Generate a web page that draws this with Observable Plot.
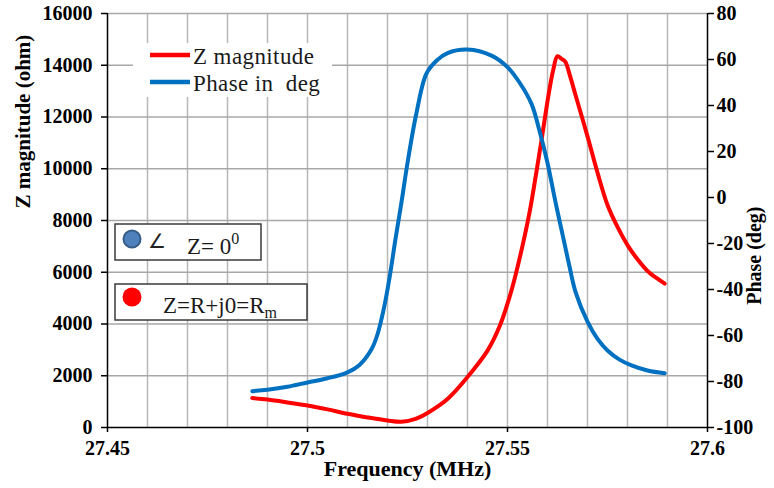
<!DOCTYPE html>
<html>
<head>
<meta charset="utf-8">
<script src="https://cdn.jsdelivr.net/npm/d3@7"></script>
<script src="https://cdn.jsdelivr.net/npm/@observablehq/plot@0.6"></script>
<style>
  body { margin: 0; background: #fff; }
  #wrap { position: relative; width: 774px; height: 488px; }
  #wrap svg { display: block; }
  #wrap svg, #wrap svg text, #wrap svg tspan { font-family: "Liberation Serif", "Times New Roman", "DejaVu Serif", serif !important; }
  #overlay { position: absolute; left: 0; top: 0; pointer-events: none; }
  #overlay text.sym { font-family: "DejaVu Sans", sans-serif !important; }
</style>
</head>
<body>
<div id="wrap"></div>
<script>
// ---- Data ----
const zFreq = [27.4862, 27.49, 27.495, 27.5, 27.505, 27.51, 27.515, 27.52, 27.5235, 27.527, 27.53, 27.535, 27.54, 27.545, 27.548, 27.551, 27.5535, 27.5555, 27.5572, 27.5588, 27.5602, 27.5614, 27.5625, 27.5635, 27.5644, 27.5657, 27.567, 27.57, 27.5725, 27.575, 27.5775, 27.58, 27.5825, 27.585, 27.5875, 27.5893];
const zMag  = [1140, 1080, 970, 850, 700, 530, 390, 270, 220, 330, 560, 1100, 1950, 2970, 3900, 5300, 6850, 8300, 9850, 11400, 12800, 13800, 14350, 14250, 14150, 13550, 12850, 11250, 9850, 8600, 7750, 7050, 6500, 6050, 5750, 5560];

const phFreq = [27.4862, 27.49, 27.495, 27.5, 27.505, 27.51, 27.513, 27.516, 27.5175, 27.519, 27.5205, 27.522, 27.5235, 27.525, 27.5272, 27.5297, 27.5323, 27.535, 27.54, 27.546, 27.55, 27.553, 27.556, 27.558, 27.56, 27.562, 27.564, 27.5655, 27.567, 27.57, 27.5725, 27.575, 27.578, 27.581, 27.585, 27.5893];
const phDeg  = [-84.2, -83.6, -82.3, -80.4, -78.6, -76, -72.8, -66, -59.5, -49, -35, -18, -2, 15, 36.4, 53.8, 59.6, 62.8, 64.3, 61.7, 56.7, 50, 40.7, 29, 15, -2, -18, -30, -41, -54, -61.5, -66.5, -70.5, -73, -75.2, -76.4];

const xTicks  = [27.45, 27.5, 27.55, 27.6];
const xGrid   = [27.46, 27.47, 27.48, 27.49, 27.5, 27.51, 27.52, 27.53, 27.54, 27.55, 27.56, 27.57, 27.58, 27.59];
const zTicks  = [0, 2000, 4000, 6000, 8000, 10000, 12000, 14000, 16000];
const phTicks = [-100, -80, -60, -40, -20, 0, 20, 40, 60, 80];

const seriesNames = ["Z magnitude", "Phase in  deg"];
const seriesColors = ["#ff0000", "#0070c0"];

// ---- secondary axis mapping (phase -> primary scale) ----
const zMax = 16000, phMin = -100, phMax = 80;
const toZ = p => (p - phMin) / (phMax - phMin) * zMax;
const toPh = z => Math.round(z / zMax * (phMax - phMin) + phMin);

const zData = zFreq.map((f, i) => ({f, v: zMag[i]}));
const phData = phFreq.map((f, i) => ({f, v: toZ(phDeg[i])}));

const serif = "'Liberation Serif', 'Times New Roman', 'DejaVu Serif', serif";
const axisFont = {fontFamily: serif, fontSize: 20, fontWeight: "bold", strokeWidth: 1.5, label: null};

const chart = Plot.plot({
  width: 774,
  height: 488,
  marginLeft: 107,
  marginRight: 67,
  marginTop: 13,
  marginBottom: 61,
  x: {domain: [27.45, 27.6]},
  y: {domain: [0, zMax]},
  style: {fontFamily: serif, background: "#fff", color: "#000"},
  marks: [
    Plot.ruleX(xGrid, {stroke: "#b8b8b8", strokeWidth: 1.5}),
    Plot.ruleY(zTicks.slice(1), {stroke: "#a8a8a8", strokeWidth: 1.5}),
    Plot.line(zData, {x: "f", y: "v", stroke: seriesColors[0], strokeWidth: 4, curve: "catmull-rom"}),
    Plot.line(phData, {x: "f", y: "v", stroke: seriesColors[1], strokeWidth: 4, curve: "catmull-rom"}),
    Plot.ruleY([0], {stroke: "#000", strokeWidth: 1.5}),
    Plot.ruleX([27.45], {stroke: "#000", strokeWidth: 1.5}),
    Plot.ruleX([27.6], {stroke: "#000", strokeWidth: 1.5}),
    Plot.axisX(xTicks, {...axisFont, tickSize: 5, tickPadding: 8, tickFormat: d => String(d)}),
    Plot.axisY(zTicks, {...axisFont, anchor: "left", tickSize: 6, tickPadding: 9, tickFormat: d => String(d)}),
    Plot.axisY(phTicks.map(toZ), {...axisFont, anchor: "right", tickSize: 6, tickPadding: 3, tickFormat: d => String(toPh(d))}),
    Plot.text(["Frequency (MHz)"], {frameAnchor: "bottom", dy: 48, fontFamily: serif, fontSize: 22, fontWeight: "bold"}),
    Plot.text(["Z magnitude (ohm)"], {frameAnchor: "left", dx: -84, dy: -12, rotate: -90, fontFamily: serif, fontSize: 21, fontWeight: "bold"}),
    Plot.text(["Phase (deg)"], {frameAnchor: "right", dx: 47, dy: -14, rotate: -90, fontFamily: serif, fontSize: 20, fontWeight: "bold"})
  ]
});

const wrap = document.getElementById("wrap");
wrap.appendChild(chart);

// ---- Legend and annotation boxes (overlay) ----
const ov = d3.select(wrap).append("svg")
  .attr("id", "overlay").attr("width", 774).attr("height", 488);

// legend
ov.append("rect").attr("x", 133).attr("y", 43).attr("width", 199).attr("height", 54).attr("fill", "#fff");
seriesNames.forEach((name, i) => {
  const cy = 55 + i * 27;
  ov.append("line").attr("x1", 150).attr("x2", 190).attr("y1", cy).attr("y2", cy)
    .attr("stroke", seriesColors[i]).attr("stroke-width", 4.5);
  ov.append("text").attr("x", 193).attr("y", cy + 8.5).attr("font-size", 23)
    .attr("letter-spacing", "0.4px")
    .attr("fill", "#1a1a1a").attr("xml:space", "preserve").style("white-space", "pre").text(name);
});

// box 1 : angle Z = 0°
ov.append("rect").attr("x", 115).attr("y", 224).attr("width", 146).attr("height", 36)
  .attr("fill", "#fff").attr("stroke", "#3a3a3a").attr("stroke-width", 1.5);
ov.append("circle").attr("cx", 132).attr("cy", 239).attr("r", 8.5)
  .attr("fill", "#4f81bd").attr("stroke", "#385d8a").attr("stroke-width", 2);
ov.append("text").attr("class", "sym").attr("x", 148).attr("y", 248).attr("font-size", 20)
  .attr("fill", "#222").text("\u2220");
const t1 = ov.append("text").attr("x", 187).attr("y", 254).attr("font-size", 23).attr("fill", "#1a1a1a");
t1.append("tspan").text("Z= 0");
t1.append("tspan").attr("font-size", 16).attr("dy", -10).text("0");

// box 2 : Z = R + j0 = Rm
ov.append("rect").attr("x", 115).attr("y", 284).attr("width", 192).attr("height", 36)
  .attr("fill", "#fff").attr("stroke", "#3a3a3a").attr("stroke-width", 1.5);
ov.append("circle").attr("cx", 132).attr("cy", 297).attr("r", 9.5).attr("fill", "#ff0000");
const t2 = ov.append("text").attr("x", 163).attr("y", 313).attr("font-size", 23).attr("fill", "#1a1a1a");
t2.append("tspan").text("Z=R+j0=R");
t2.append("tspan").attr("font-size", 16).attr("dy", 5).text("m");
</script>
</body>
</html>
